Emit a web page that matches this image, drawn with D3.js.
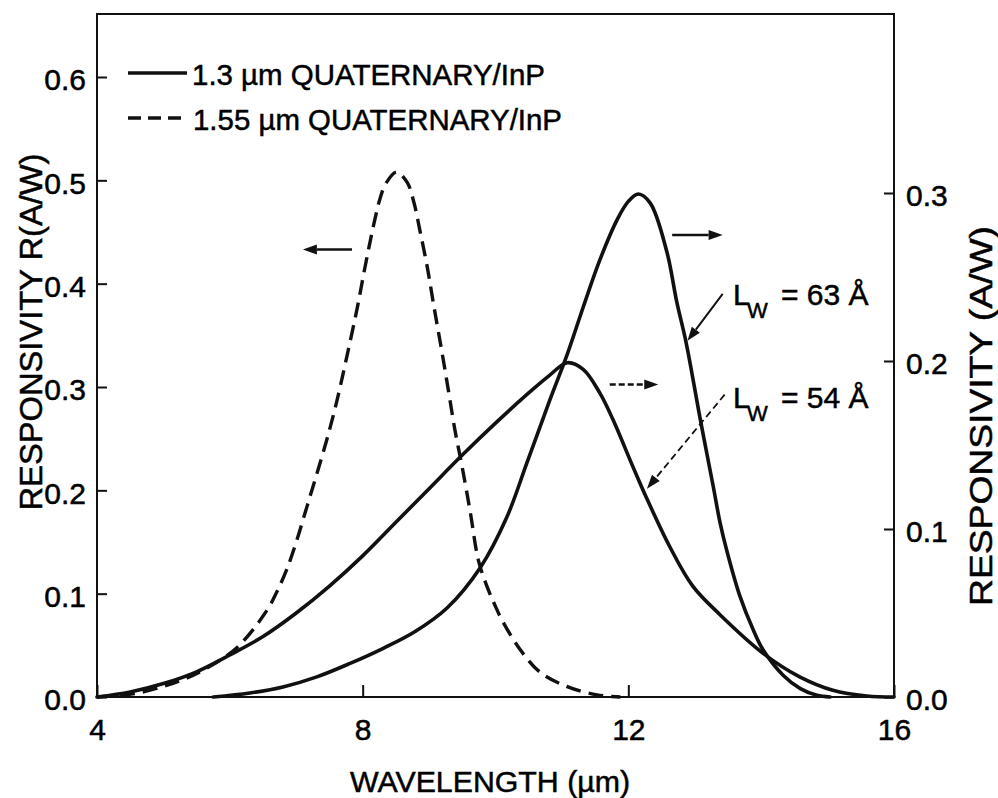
<!DOCTYPE html>
<html>
<head>
<meta charset="utf-8">
<script src="https://cdn.jsdelivr.net/npm/d3@7"></script>
<style>
  html, body { margin: 0; padding: 0; background: #fff; }
  svg text { font-family: "Liberation Sans", Arial, Helvetica, sans-serif; fill: #000; stroke: #000; stroke-width: 0.5px; }
</style>
</head>
<body>
<svg id="chart" width="998" height="798"></svg>
<script>
// 1.55 µm quaternary/InP detector (left axis), wavelength in µm vs responsivity in A/W
const wl155 = [4.00, 4.54, 4.99, 5.30, 5.60, 6.11, 6.56, 6.71, 6.86, 7.01, 7.16, 7.31, 7.46, 7.61, 7.76, 7.92, 8.02, 8.11, 8.19, 8.26, 8.35, 8.51, 8.67, 8.77, 8.86, 8.97, 9.07, 9.18, 9.29, 9.39, 9.50, 9.62, 9.74, 9.86, 9.99, 10.11, 10.37, 10.67, 11.08, 11.53, 11.88];
const resp155 = [0.000, 0.003, 0.010, 0.017, 0.026, 0.048, 0.084, 0.102, 0.124, 0.152, 0.184, 0.216, 0.249, 0.286, 0.329, 0.377, 0.411, 0.440, 0.464, 0.482, 0.497, 0.508, 0.498, 0.479, 0.452, 0.417, 0.379, 0.339, 0.297, 0.258, 0.222, 0.179, 0.133, 0.109, 0.089, 0.073, 0.046, 0.024, 0.010, 0.002, 0.000];

// 1.3 µm quaternary/InP, well width 63 Å (right axis)
const wl63 = [5.75, 6.30, 6.80, 7.31, 7.81, 8.31, 8.79, 9.27, 9.77, 10.17, 10.47, 10.82, 11.08, 11.32, 11.57, 11.83, 12.00, 12.15, 12.33, 12.58, 12.73, 12.87, 13.08, 13.28, 13.38, 13.49, 13.68, 13.88, 14.03, 14.33, 14.59, 14.84, 15.04];
const resp63 = [0.000, 0.0024, 0.006, 0.012, 0.020, 0.029, 0.039, 0.053, 0.077, 0.107, 0.139, 0.177, 0.204, 0.232, 0.260, 0.284, 0.295, 0.2994, 0.294, 0.265, 0.235, 0.211, 0.166, 0.125, 0.104, 0.086, 0.060, 0.040, 0.028, 0.013, 0.005, 0.001, 0.000];

// 1.3 µm quaternary/InP, well width 54 Å (right axis)
const wl54 = [4.0, 4.5, 5.0, 5.5, 6.0, 6.5, 7.0, 7.5, 8.0, 8.5, 9.0, 9.5, 10.0, 10.5, 10.8, 11.08, 11.32, 11.57, 11.77, 12.07, 12.28, 12.63, 12.97, 13.38, 14.03, 14.58, 15.08, 15.59, 16.0];
const resp54 = [0.000, 0.003, 0.008, 0.015, 0.025, 0.036, 0.050, 0.066, 0.084, 0.104, 0.124, 0.144, 0.163, 0.181, 0.191, 0.199, 0.195, 0.181, 0.165, 0.137, 0.118, 0.089, 0.066, 0.049, 0.026, 0.012, 0.004, 0.0006, 0.000];

const xTicks = [4, 8, 12, 16];
const leftTicks = [0.0, 0.1, 0.2, 0.3, 0.4, 0.5, 0.6];
const rightTicks = [0.0, 0.1, 0.2, 0.3];
const legendLabels = ["1.3 µm QUATERNARY/InP", "1.55 µm QUATERNARY/InP"];
const wellWidths = ["63", "54"];
const xTitle = "WAVELENGTH (µm)";
const leftTitle = "RESPONSIVITY R(A/W)";
const rightTitle = "RESPONSIVITY (A/W)";

const svg = d3.select("#chart");
const plot = { left: 97, right: 894, top: 14, bottom: 697 };

const x = d3.scaleLinear().domain([4, 16]).range([plot.left, plot.right]);
const yL = d3.scaleLinear().domain([0, 0.6]).range([plot.bottom, 77]);
const yR = d3.scaleLinear().domain([0, 0.3]).range([plot.bottom, 193]);

const ink = "#111";
const fontSize = 30;

// frame
svg.append("rect")
  .attr("x", plot.left).attr("y", plot.top)
  .attr("width", plot.right - plot.left).attr("height", plot.bottom - plot.top)
  .attr("fill", "none").attr("stroke", ink).attr("stroke-width", 2);

function styleAxis(g) {
  g.select(".domain").remove();
  g.selectAll(".tick line").attr("stroke", ink).attr("stroke-width", 2);
  g.selectAll(".tick text").attr("font-size", fontSize).attr("fill", "#000")
    .attr("font-family", '"Liberation Sans", Arial, sans-serif');
}

// left axis
svg.append("g")
  .attr("transform", `translate(${plot.left},0)`)
  .call(d3.axisLeft(yL).tickValues(leftTicks).tickFormat(d3.format(".1f"))
    .tickSizeInner(-10).tickSizeOuter(0).tickPadding(11))
  .call(styleAxis)
  .call(g => g.selectAll(".tick text").attr("dy", "0.43em"));

// right axis
svg.append("g")
  .attr("transform", `translate(${plot.right},0)`)
  .call(d3.axisRight(yR).tickValues(rightTicks).tickFormat(d3.format(".1f"))
    .tickSizeInner(-10).tickSizeOuter(0).tickPadding(12))
  .call(styleAxis)
  .call(g => g.selectAll(".tick text").attr("dy", "0.43em"));

// bottom axis
svg.append("g")
  .attr("transform", `translate(0,${plot.bottom})`)
  .call(d3.axisBottom(x).tickValues(xTicks).tickFormat(d3.format("d"))
    .tickSizeInner(-12).tickSizeOuter(0).tickPadding(22))
  .call(styleAxis);

// axis titles
svg.append("text")
  .attr("x", 490).attr("y", 792)
  .attr("text-anchor", "middle").attr("font-size", fontSize)
  .attr("textLength", 280).attr("lengthAdjust", "spacingAndGlyphs")
  .text(xTitle);

svg.append("text")
  .attr("transform", "translate(42,332) rotate(-90)")
  .attr("text-anchor", "middle").attr("font-size", 32)
  .attr("textLength", 357).attr("lengthAdjust", "spacingAndGlyphs")
  .text(leftTitle);

svg.append("text")
  .attr("transform", "translate(992,416) rotate(-90)")
  .attr("text-anchor", "middle").attr("font-size", 31)
  .attr("textLength", 380).attr("lengthAdjust", "spacingAndGlyphs")
  .text(rightTitle);

// curves
const toPts = (xs, ys) => xs.map((v, i) => [v, ys[i]]);
const smooth = d3.curveCatmullRom.alpha(0.5);
const lineL = d3.line().x(d => x(d[0])).y(d => Math.min(yL(d[1]), plot.bottom)).curve(smooth);
const lineR = d3.line().x(d => x(d[0])).y(d => Math.min(yR(d[1]), plot.bottom)).curve(smooth);

svg.append("path").attr("d", lineR(toPts(wl54, resp54)))
  .attr("fill", "none").attr("stroke", ink).attr("stroke-width", 3.6)
  .attr("stroke-linejoin", "round").attr("stroke-linecap", "round");

svg.append("path").attr("d", lineR(toPts(wl63, resp63)))
  .attr("fill", "none").attr("stroke", ink).attr("stroke-width", 3.6)
  .attr("stroke-linejoin", "round").attr("stroke-linecap", "round");

svg.append("path").attr("d", lineL(toPts(wl155, resp155)))
  .attr("fill", "none").attr("stroke", ink).attr("stroke-width", 3.4)
  .attr("stroke-dasharray", "15,8");

// legend
svg.append("line").attr("x1", 128).attr("x2", 187).attr("y1", 73).attr("y2", 73)
  .attr("stroke", ink).attr("stroke-width", 3.4);
svg.append("text").attr("x", 192).attr("y", 85).attr("font-size", fontSize)
  .attr("textLength", 353).attr("lengthAdjust", "spacingAndGlyphs")
  .text(legendLabels[0]);
svg.append("line").attr("x1", 128).attr("x2", 188).attr("y1", 118).attr("y2", 118)
  .attr("stroke", ink).attr("stroke-width", 3.4).attr("stroke-dasharray", "13,7");
svg.append("text").attr("x", 193).attr("y", 130).attr("font-size", fontSize)
  .attr("textLength", 369).attr("lengthAdjust", "spacingAndGlyphs")
  .text(legendLabels[1]);

// arrows pointing to the relevant axis or curve
function arrow(x1, y1, x2, y2, opts = {}) {
  const w = opts.width || 2.5, head = opts.head || 14, half = opts.half || 5;
  const ang = Math.atan2(y2 - y1, x2 - x1);
  const bx = x2 - head * Math.cos(ang), by = y2 - head * Math.sin(ang);
  const line = svg.append("line")
    .attr("x1", x1).attr("y1", y1).attr("x2", bx).attr("y2", by)
    .attr("stroke", ink).attr("stroke-width", w);
  if (opts.dash) line.attr("stroke-dasharray", opts.dash);
  const px = -Math.sin(ang) * half, py = Math.cos(ang) * half;
  svg.append("path")
    .attr("d", `M${x2},${y2}L${bx + px},${by + py}L${bx - px},${by - py}Z`)
    .attr("fill", ink);
}

// axis indicators
arrow(x(7.84), yL(0.433), x(7.10), yL(0.433));
arrow(x(12.66), yR(0.275), x(13.42), yR(0.275));
arrow(x(11.72), yR(0.186), x(12.45), yR(0.186), { dash: "6,3" });

// well-width pointers
arrow(x(13.42), yR(0.240), x(12.89), yR(0.212), { width: 2 });
arrow(x(13.45), yR(0.180), x(12.28), yR(0.124), { width: 1.8, dash: "7,4" });

// well-width labels
wellWidths.forEach((w, i) => {
  const base = i === 0 ? 305 : 408;
  const lx = x(13.575);
  svg.append("text").attr("x", lx).attr("y", base).attr("font-size", fontSize).text("L");
  svg.append("text").attr("x", lx + 14).attr("y", base + 13).attr("font-size", 22).text("W");
  svg.append("text").attr("x", lx + 48).attr("y", base).attr("font-size", fontSize)
    .text(`= ${w} Å`);
});
</script>
</body>
</html>
